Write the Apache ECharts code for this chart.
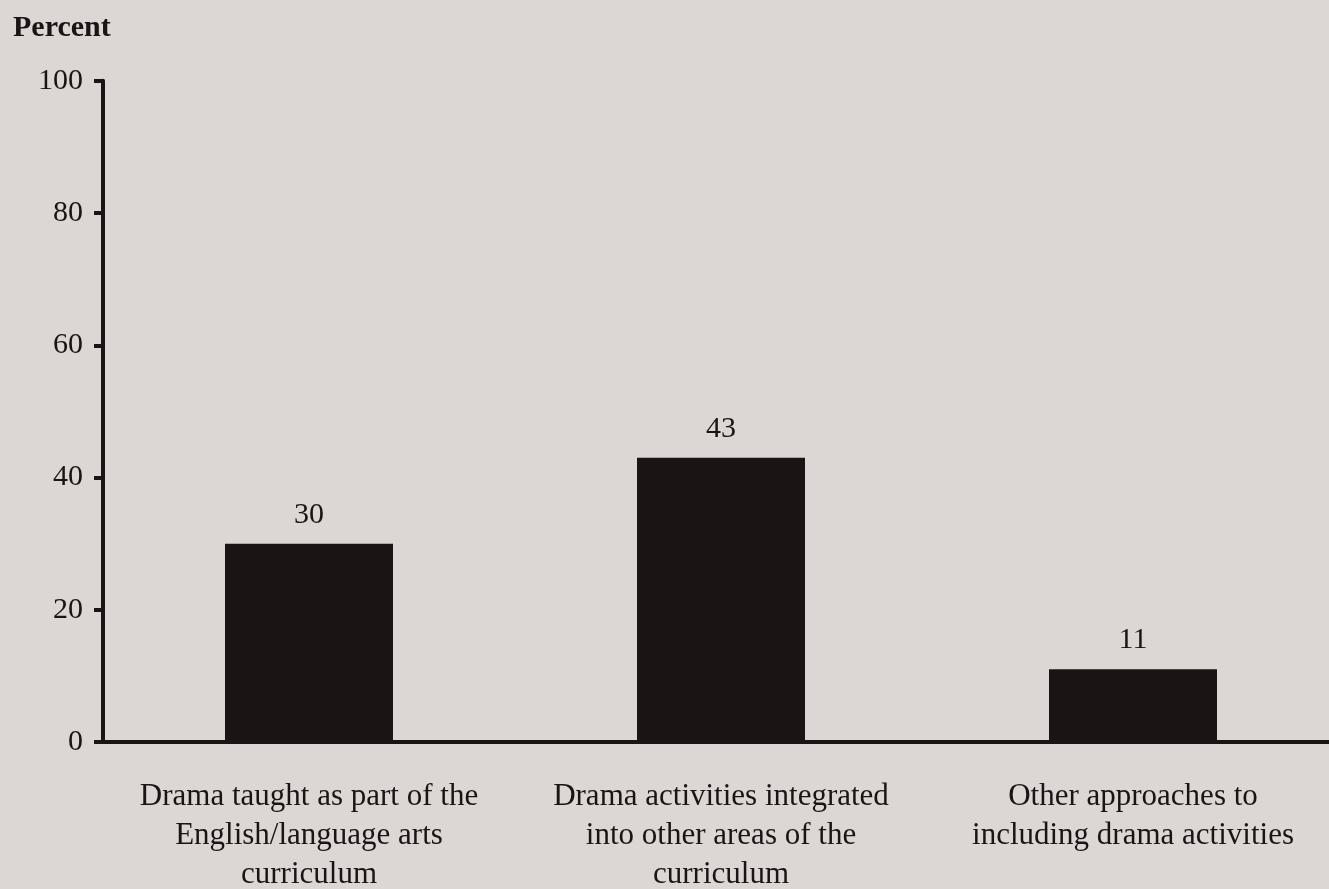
<!DOCTYPE html>
<html>
<head>
<meta charset="utf-8">
<script src="https://cdn.jsdelivr.net/npm/echarts@6/dist/echarts.min.js"></script>
<style>
html,body{margin:0;padding:0;background:#dcd6d5;}
#chart{width:1329px;height:889px;}
</style>
</head>
<body>
<div id="chart"></div>
<script>
const categories = [
  "Drama taught as part of the\nEnglish/language arts\ncurriculum",
  "Drama activities integrated\ninto other areas of the\ncurriculum",
  "Other approaches to\nincluding drama activities"
];
const values = [30, 43, 11];
const yTicks = [0, 20, 40, 60, 80, 100];

const FONT = "'Liberation Serif', 'Times New Roman', serif";
const INK = "#1b1414";

const chart = echarts.init(document.getElementById('chart'));
chart.setOption({
  backgroundColor: '#dcd6d5',
  animation: false,
  title: {
    text: 'Percent',
    left: 13,
    top: 13,
    padding: 0,
    textStyle: { fontFamily: FONT, fontSize: 30, fontWeight: 'bold', color: INK }
  },
  grid: {
    left: 103, width: 1236, top: 80.75, height: 661.25,
    containLabel: false,
    outerBoundsMode: 'none'
  },
  xAxis: {
    type: 'category',
    data: categories,
    axisLine: { show: true, lineStyle: { color: INK, width: 4 } },
    axisTick: { show: false },
    axisLabel: {
      interval: 0,
      margin: 35,
      fontFamily: FONT,
      fontSize: 31,
      lineHeight: 39,
      color: INK,
      align: 'center'
    }
  },
  yAxis: {
    type: 'value',
    min: yTicks[0],
    max: yTicks[yTicks.length - 1],
    interval: 20,
    splitLine: { show: false },
    axisLine: { show: true, lineStyle: { color: INK, width: 4 } },
    axisTick: { show: true, inside: false, length: 9, lineStyle: { color: INK, width: 4 } },
    axisLabel: {
      margin: 20,
      fontFamily: FONT,
      fontSize: 30,
      color: INK
    }
  },
  series: [{
    type: 'bar',
    data: values,
    barWidth: 168,
    itemStyle: { color: INK },
    label: {
      show: true,
      position: 'top',
      distance: 14,
      fontFamily: FONT,
      fontSize: 30,
      color: INK
    }
  }]
});
</script>
</body>
</html>
